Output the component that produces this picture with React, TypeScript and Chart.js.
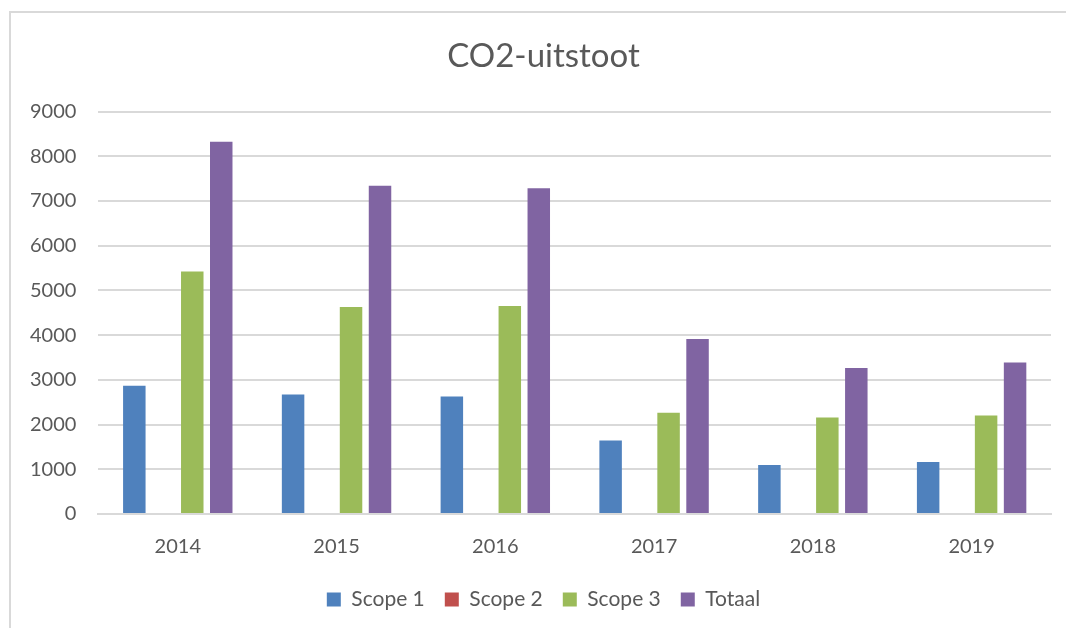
import React, { useEffect, useRef } from "react";
import { Chart, registerables } from "chart.js";

Chart.register(...registerables);

const categories = ["2014", "2015", "2016", "2017", "2018", "2019"];
const scope1 = [2866, 2672, 2627, 1645, 1094, 1161];
const scope2 = [20, 20, 0, 0, 0, 0];
const scope3 = [5424, 4629, 4652, 2263, 2158, 2203];
const totaal = [8326, 7344, 7286, 3915, 3268, 3386];
const yTicks = [0, 1000, 2000, 3000, 4000, 5000, 6000, 7000, 8000, 9000];

const FONT = "Lato, 'Open Sans', sans-serif";
const TEXT = "#595959";

const unclipYLabels = {
  id: "unclipYLabels",
  afterLayout(chart: any) {
    if (chart.scales.y) chart.scales.y.left = 0;
  },
};

export default function App() {
  const ref = useRef<HTMLCanvasElement | null>(null);

  useEffect(() => {
    if (!ref.current) return;
    const chart = new Chart(ref.current, {
      type: "bar",
      data: {
        labels: categories,
        datasets: [
          { label: "Scope 1", data: scope1, backgroundColor: "#4f81bd" },
          { label: "Scope 2", data: scope2, backgroundColor: "#c0504d" },
          { label: "Scope 3", data: scope3, backgroundColor: "#9bbb59" },
          { label: "Totaal", data: totaal, backgroundColor: "#8064a2" },
        ],
      },
      plugins: [unclipYLabels],
      options: {
        animation: false,
        responsive: false,
        maintainAspectRatio: false,
        layout: { padding: { left: 36, right: 15, top: 0, bottom: 8 } },
        datasets: {
          bar: { categoryPercentage: 0.73, barPercentage: 0.776 },
        },
        plugins: {
          title: {
            display: true,
            text: "CO2-uitstoot",
            color: TEXT,
            font: { family: FONT, size: 33, weight: "normal", lineHeight: 1.2 },
            padding: { top: 37, bottom: 35 },
          },
          legend: {
            position: "bottom",
            labels: {
              color: TEXT,
              font: { family: FONT, size: 21 },
              boxWidth: 14,
              boxHeight: 14,
              padding: 20,
            },
          },
          tooltip: { enabled: false },
        },
        scales: {
          x: {
            grid: { display: false, drawTicks: false },
            border: { display: true, color: "#d9d9d9", width: 2 },
            ticks: { color: TEXT, font: { family: FONT, size: 20 }, padding: 21 },
            afterFit: (scale: any) => {
              scale.height -= 11;
            },
          },
          y: {
            min: 0,
            max: 9000,
            afterBuildTicks: (axis: any) => {
              axis.ticks = yTicks.map((v) => ({ value: v }));
            },
            afterFit: (scale: any) => {
              scale.width -= 28;
            },
            grid: { color: "#d9d9d9", lineWidth: 2, drawTicks: false },
            border: { display: false },
            ticks: {
              color: TEXT,
              font: { family: FONT, size: 20 },
              padding: 22,
              callback: (v: any) => String(v),
            },
          },
        },
      },
    });
    return () => chart.destroy();
  }, []);

  return (
    <div style={{ position: "fixed", left: 0, top: 0, width: 1066, height: 628, background: "#fff" }}>
      <div
        style={{
          position: "absolute",
          left: 9,
          top: 11,
          width: 1100,
          height: 700,
          borderLeft: "2px solid #d9d9d9",
          borderTop: "2px solid #d9d9d9",
        }}
      />
      <canvas ref={ref} width={1066} height={628} style={{ position: "absolute", left: 0, top: 0 }} />
    </div>
  );
}
